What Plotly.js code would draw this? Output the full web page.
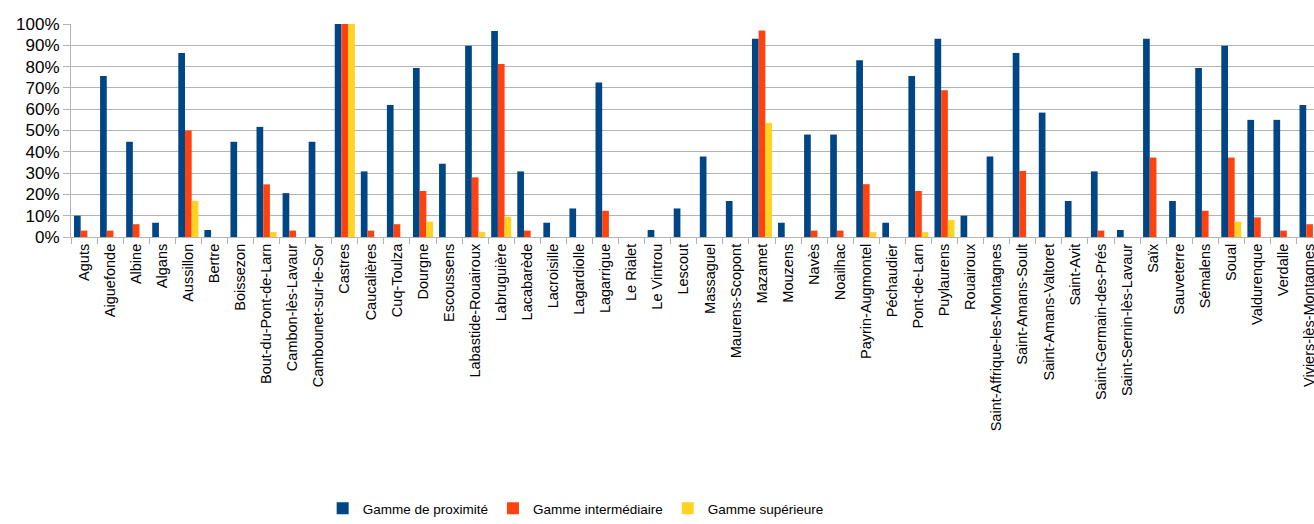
<!DOCTYPE html>
<html>
<head>
<meta charset="utf-8">
<script src="https://cdn.plot.ly/plotly-3.0.1.min.js"></script>
<style>html,body{margin:0;padding:0;background:#fff;}#chart{width:1314px;height:524px;}</style>
</head>
<body>
<div id="chart"></div>
<script>
const communes = ["Aguts","Aiguefonde","Albine","Algans","Aussillon","Bertre","Boissezon","Bout-du-Pont-de-Larn","Cambon-lès-Lavaur","Cambounet-sur-le-Sor","Castres","Caucalières","Cuq-Toulza","Dourgne","Escoussens","Labastide-Rouairoux","Labruguière","Lacabarède","Lacroisille","Lagardiolle","Lagarrigue","Le Rialet","Le Vintrou","Lescout","Massaguel","Maurens-Scopont","Mazamet","Mouzens","Navès","Noailhac","Payrin-Augmontel","Péchaudier","Pont-de-Larn","Puylaurens","Rouairoux","Saint-Affrique-les-Montagnes","Saint-Amans-Soult","Saint-Amans-Valtoret","Saint-Avit","Saint-Germain-des-Prés","Saint-Sernin-lès-Lavaur","Saïx","Sauveterre","Sémalens","Soual","Valdurenque","Verdalle","Viviers-lès-Montagnes"];

const gammeProximite = [10,75.6,44.7,6.7,86.4,3.3,44.7,51.7,20.6,44.7,100,30.8,62,79.4,34.4,89.8,96.7,30.8,6.7,13.4,72.5,0,3.3,13.4,37.8,16.9,93.1,6.7,48.1,48.1,83,6.7,75.6,93.1,10,37.8,86.4,58.4,16.9,30.8,3.3,93.1,16.9,79.4,89.8,55,55,62];

const gammeIntermediaire = [3,3,6,0,50,0,0,24.7,3,0,100,3,6,21.6,0,28,81.2,3,0,0,12.3,0,0,0,0,0,97,0,3,3,24.8,0,21.6,68.9,0,0,31,0,0,3,0,37.3,0,12.3,37.3,9.2,3,6];

const gammeSuperieure = [0,0,0,0,17,0,0,2.3,0,0,100,0,0,7.2,0,2.3,9.5,0,0,0,0,0,0,0,0,0,53.6,0,0,0,2.3,0,2.3,8,0,0,0,0,0,0,0,0,0,0,7.2,0,0,0];

const seriesNames = ["Gamme de proximité","Gamme intermédiaire","Gamme supérieure"];
const seriesColors = ["#004586","#ff420e","#ffd320"];
const seriesValues = [gammeProximite, gammeIntermediaire, gammeSuperieure];

const traces = seriesValues.map((vals, i) => ({
  type: "bar",
  name: seriesNames[i],
  x: communes,
  y: vals,
  marker: {color: seriesColors[i], line: {width: 0}},
  hoverinfo: "x+y"
}));

const layout = {
  width: 1314,
  height: 524,
  margin: {l: 71, r: 0, t: 24, b: 287, pad: 0},
  paper_bgcolor: "#ffffff",
  plot_bgcolor: "#ffffff",
  barmode: "group",
  bargap: 0.23,
  bargroupgap: 0,
  font: {family: "Liberation Sans, Arial, sans-serif", size: 14, color: "#000000"},
  xaxis: {
    type: "category",
    range: [-0.5, 47.17],
    tickangle: -90,
    tickson: "boundaries",
    ticks: "outside",
    ticklen: 6,
    tickcolor: "#b3b3b3",
    showgrid: false,
    showline: true,
    linecolor: "#b3b3b3",
    linewidth: 1,
    tickfont: {family: "Liberation Sans, Arial, sans-serif", size: 14.5, color: "#000"},
    automargin: false
  },
  yaxis: {
    range: [0, 100],
    dtick: 10,
    tick0: 0,
    ticksuffix: "%",
    ticks: "outside",
    ticklen: 7,
    tickcolor: "#b3b3b3",
    showgrid: true,
    gridcolor: "#b3b3b3",
    gridwidth: 1,
    showline: true,
    linecolor: "#b3b3b3",
    zeroline: false,
    tickfont: {family: "Liberation Sans, Arial, sans-serif", size: 17, color: "#000"},
    automargin: false
  },
  legend: {
    orientation: "h",
    x: 0.406,
    xanchor: "center",
    y: -1.28,
    yanchor: "middle",
    font: {family: "Liberation Sans, Arial, sans-serif", size: 13.5, color: "#000"},
    itemwidth: 30,
    tracegroupgap: 0
  },
  showlegend: true
};

Plotly.newPlot("chart", traces, layout, {displayModeBar: false, staticPlot: true});
</script>
</body>
</html>
